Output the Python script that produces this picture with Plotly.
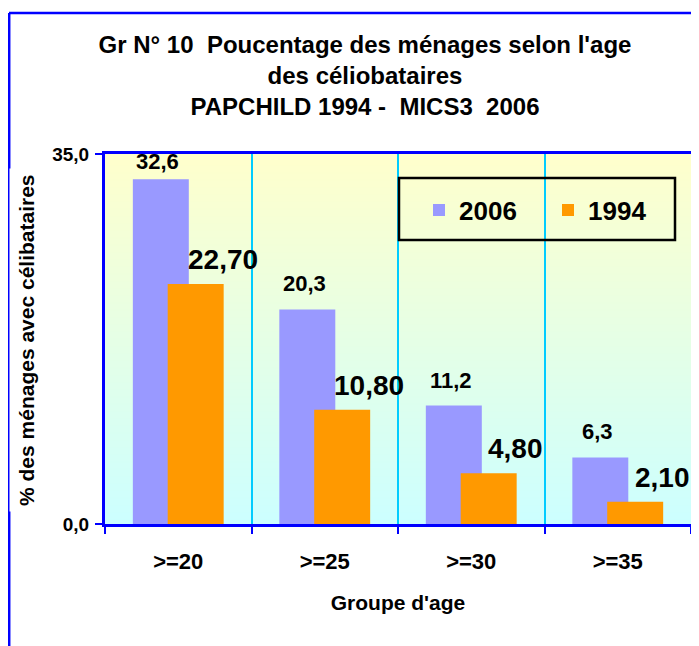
import base64, struct, zlib
import plotly.graph_objects as go

categories = [">=20", ">=25", ">=30", ">=35"]
values_2006 = [32.6, 20.3, 11.2, 6.3]
values_1994 = [22.70, 10.80, 4.80, 2.10]
y_ticks = [0, 35]
Y_MAX = 35

FONT = "Liberation Sans, Arial, sans-serif"
BLUE = "#0000FF"

# The page body has an 8px margin: figure is placed at (8, 8) in the window.
BODY = 8
FIG_W, FIG_H = 699 - BODY, 646 - BODY
PLOT_L, PLOT_R, PLOT_T, PLOT_B = 105, 691, 154, 524   # window pixels
PW, PH = PLOT_R - PLOT_L, PLOT_B - PLOT_T


def px(xw):
    return (xw - PLOT_L) / PW


def py(yw):
    return (PLOT_B - yw) / PH


def gradient_png(top, bottom, n=256):
    raw = b""
    for i in range(n):
        t = i / (n - 1)
        p = bytes(int(round(top[k] + (bottom[k] - top[k]) * t)) for k in range(3))
        raw += b"\x00" + p

    def chunk(tag, data):
        c = struct.pack(">I", len(data)) + tag + data
        return c + struct.pack(">I", zlib.crc32(tag + data) & 0xFFFFFFFF)
    png = b"\x89PNG\r\n\x1a\n"
    png += chunk(b"IHDR", struct.pack(">IIBBBBB", 1, n, 8, 2, 0, 0, 0))
    png += chunk(b"IDAT", zlib.compress(raw))
    png += chunk(b"IEND", b"")
    return "data:image/png;base64," + base64.b64encode(png).decode()


W_BAR = 0.382
OFF_2006, OFF_1994 = -0.31, -0.072

fig = go.Figure()
fig.add_trace(go.Bar(
    name="2006", x=categories, y=values_2006,
    marker=dict(color="#9999FF", line=dict(width=0)),
    offset=OFF_2006, width=W_BAR, legendwidth=84,
))
fig.add_trace(go.Bar(
    name="1994", x=categories, y=values_1994,
    marker=dict(color="#FF9900", line=dict(width=0)),
    offset=OFF_1994, width=W_BAR, legendwidth=60,
))

annotations = []
label_h = 30 * Y_MAX / PH   # approx label height in data units
for i, v in enumerate(values_2006):
    inside = v + label_h + 1 > Y_MAX   # keep label inside plot area like Excel
    annotations.append(dict(
        x=i + OFF_2006 + W_BAR / 2, y=Y_MAX if inside else v, xref="x", yref="y",
        text=f"{v:.1f}".replace(".", ","), showarrow=False,
        yanchor="top" if inside else "bottom", xanchor="center",
        yshift=7 if inside else 11, xshift=-3,
        font=dict(family=FONT, size=22, color="black", weight="bold"),
    ))
for i, v in enumerate(values_1994):
    annotations.append(dict(
        x=i + OFF_1994 + W_BAR / 2, y=v, xref="x", yref="y",
        text=f"{v:.2f}".replace(".", ","), showarrow=False,
        yanchor="bottom", xanchor="center", yshift=7, xshift=27,
        font=dict(family=FONT, size=28, color="black", weight="bold"),
    ))

annotations.append(dict(
    x=px(26), y=py(340), xref="paper", yref="paper",
    xanchor="center", yanchor="middle",
    text="% des ménages avec célibataires", showarrow=False, textangle=-90,
    bgcolor="white", borderpad=5,
    font=dict(family=FONT, size=21, color="black", weight="bold"),
))

fig.update_layout(
    width=FIG_W, height=FIG_H,
    margin=dict(l=PLOT_L - BODY, r=FIG_W - (PLOT_R - BODY),
                t=PLOT_T - BODY, b=FIG_H - (PLOT_B - BODY), autoexpand=False),
    paper_bgcolor="white",
    plot_bgcolor="rgba(0,0,0,0)",
    barmode="overlay",
    separators=",.",
    title=dict(
        text="Gr N° 10  Poucentage des ménages selon l'age<br>des céliobataires<br>PAPCHILD 1994 -  MICS3  2006",
        x=(365 - BODY) / FIG_W, xanchor="center",
        y=1 - (53 - BODY) / FIG_H, yanchor="top",
        font=dict(family=FONT, size=24, color="black", weight="bold"),
    ),
    xaxis=dict(
        type="category", tickson="boundaries",
        showline=True, linecolor=BLUE, linewidth=3, mirror=True,
        ticks="outside", ticklen=7, tickwidth=2, tickcolor=BLUE,
        showgrid=True, gridcolor="#00CCFF", gridwidth=2,
        ticklabelstandoff=16,
        tickfont=dict(family=FONT, size=22, color="black", weight="bold"),
        title=dict(text="Groupe d'age", standoff=22,
                   font=dict(family=FONT, size=21, color="black", weight="bold")),
        range=[-0.5, 3.5], fixedrange=True, automargin=False,
    ),
    yaxis=dict(
        range=[0, Y_MAX], tickvals=y_ticks, tickformat=".1f",
        showline=True, linecolor=BLUE, linewidth=3,
        ticks="outside", ticklen=7, tickwidth=2, tickcolor=BLUE,
        showgrid=False, zeroline=False,
        tickfont=dict(family=FONT, size=19, color="black", weight="bold"),
        ticklabelstandoff=2, automargin=False, fixedrange=True,
    ),
    legend=dict(
        orientation="h", x=px(419), xanchor="left", y=py(210), yanchor="middle",
        bgcolor="rgba(0,0,0,0)", borderwidth=0,
        font=dict(family=FONT, size=26, color="black", weight="bold"),
    ),
    images=[dict(
        source=gradient_png((255, 255, 204), (204, 255, 255)),
        xref="paper", yref="paper", x=0, y=1, sizex=1, sizey=1,
        sizing="stretch", layer="below", xanchor="left", yanchor="top",
    )],
    annotations=annotations,
    shapes=[
        dict(type="rect", xref="paper", yref="paper",
             x0=px(399), x1=px(675), y0=py(240), y1=py(178),
             line=dict(color="black", width=2.5), fillcolor="rgba(0,0,0,0)"),
        dict(type="line", xref="paper", yref="paper",
             x0=px(9), x1=px(720), y0=py(13), y1=py(13),
             line=dict(color=BLUE, width=2.5), layer="below"),
        dict(type="line", xref="paper", yref="paper",
             x0=px(9.2), x1=px(9.2), y0=py(700), y1=py(13),
             line=dict(color=BLUE, width=2.5), layer="below"),
    ],
)

fig.write_html("out.html")
